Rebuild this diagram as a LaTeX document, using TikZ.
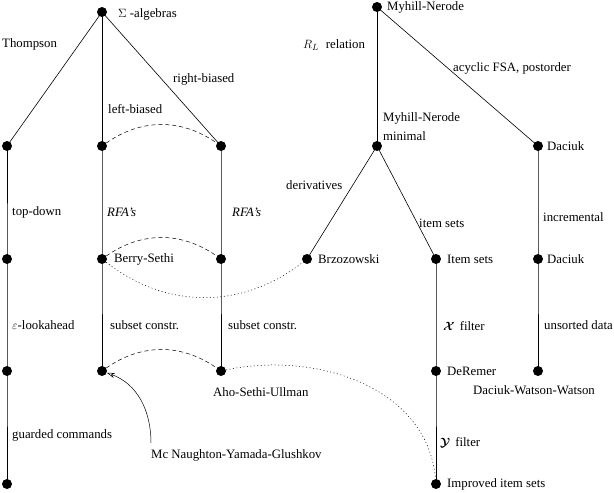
\documentclass[tikz,border=0pt]{standalone}
\usepackage{fontspec}
\usepackage{amsmath}
\setmainfont{Liberation Serif}
\usetikzlibrary{arrows.meta}
\tikzset{
  vtx/.style={circle,fill=black,inner sep=0pt,minimum size=10pt},
  edge/.style={line width=0.6pt,draw=black},
  elbl/.style={anchor=west,inner sep=0pt,font=\fontsize{12.8}{14}\selectfont},
  link/.style={dash pattern=on 4pt off 3pt,line width=0.5pt},
  trace/.style={dash pattern=on 1pt off 2.5pt,line width=0.5pt},
  arr/.style={-{Stealth[open,length=8pt,width=5pt]},line width=0.5pt},
}

\begin{document}
\begin{tikzpicture}[x=1pt,y=-1pt]
  \useasboundingbox (0,0) rectangle (614,493);
  % left tree
  \node[vtx] (sig) at (102,12) {};
  \node[vtx] (th) at (7,146) {};
  \node[vtx] (lb) at (102,146) {};
  \node[vtx] (rb) at (221,146) {};
  \node[vtx] (td) at (7,259) {};
  \node[vtx] (bs) at (102,259) {};
  \node[vtx] (rfa) at (221,259) {};
  \node[vtx] (eps) at (7,371) {};
  \node[vtx] (mc) at (102,371) {};
  \node[vtx] (asu) at (221,371) {};
  \node[vtx] (gc) at (7,484) {};
  % right tree
  \node[vtx] (mn) at (377,7) {};
  \node[vtx] (mnm) at (377,146) {};
  \node[vtx] (dac) at (538,146) {};
  \node[vtx] (brz) at (307,259) {};
  \node[vtx] (its) at (436,259) {};
  \node[vtx] (daci) at (538,259) {};
  \node[vtx] (der) at (436,371) {};
  \node[vtx] (dww) at (538,371) {};
  \node[vtx] (imp) at (436,484) {};

  % node labels
  \node[elbl] (sigl) at (118,14) {$\Sigma$ -algebras};
  \node[elbl] (mnl) at (387,7) {Myhill-Nerode};
  \node[elbl,align=left,font=\fontsize{12.8}{19}\selectfont] (mnml) at (383,127) {Myhill-Nerode\\minimal};
  \node[elbl] (dacl) at (547,146) {Daciuk};
  \node[elbl] (bsl) at (114,259) {Berry-Sethi};
  \node[elbl] (brzl) at (318,259) {Brzozowski};
  \node[elbl] (itsl) at (447,259) {Item sets};
  \node[elbl] (dacil) at (547,259) {Daciuk};
  \node[elbl] (derl) at (447,371) {DeRemer};
  \node[elbl] (asul) at (213,392) {Aho-Sethi-Ullman};
  \node[elbl] (dwwl) at (473,390) {Daciuk-Watson-Watson};
  \node[elbl] (mcgl) at (151,455) {Mc Naughton-Yamada-Glushkov};
  \node[elbl] (impl) at (447,484) {Improved item sets};

  % edge labels
  \node[elbl] (thl) at (2,44) {Thompson};
  \node[elbl] (lbl) at (108,109) {left-biased};
  \node[elbl] (rbl) at (173,79) {right-biased};
  \node[elbl] (rll) at (303,45) {$R_L$\hspace{7pt}relation};
  \node[elbl] (acl) at (453,68) {acyclic FSA, postorder};
  \node[elbl] (tdl) at (12,212) {top-down};
  \node[elbl] (rfal) at (107,212) {\textit{RFA's}};
  \node[elbl] (rfar) at (232,212) {\textit{RFA's}};
  \node[elbl] (dervl) at (286,185) {derivatives};
  \node[elbl] (isl) at (419,223) {item sets};
  \node[elbl] (incl) at (543,217) {incremental};
  \node[elbl] (epsl) at (12,325) {$\varepsilon$-lookahead};
  \node[elbl] (scl) at (110,325) {subset constr.};
  \node[elbl] (scr) at (228,325) {subset constr.};
  \node[elbl] (xfl) at (443,326) {$\boldsymbol{\mathcal{X}}$\hspace{5pt}filter};
  \node[elbl] (usl) at (544,325) {unsorted data};
  \node[elbl] (gcl) at (12,435) {guarded commands};
  \node[elbl] (yfl) at (440,443) {$\boldsymbol{\mathcal{Y}}$\hspace{5pt}filter};

  % tree edges
  \draw[edge] (sig.center) -- (th.center);
  \draw[edge] (sig.center) -- (lb.center);
  \draw[edge] (sig.center) -- (rb.center);
  \draw[edge] (th.center) -- (td.center) -- (eps.center) -- (gc.center);
  \draw[edge] (lb.center) -- (bs.center) -- (mc.center);
  \draw[edge] (rb.center) -- (rfa.center) -- (asu.center);
  \draw[edge] (mn.center) -- (mnm.center);
  \draw[edge] (mn.center) -- (dac.center);
  \draw[edge] (mnm.center) -- (brz.center);
  \draw[edge] (mnm.center) -- (its.center);
  \draw[edge] (its.center) -- (der.center) -- (imp.center);
  \draw[edge] (dac.center) -- (daci.center) -- (dww.center);

  % equivalences
  \draw[link] (lb) to[bend left=35] (rb);
  \draw[link] (bs) to[bend left=35] (rfa);
  \draw[link] (mc) to[bend left=35] (asu);
  \draw[trace] (bs) to[bend right=38] (brz);
  \draw[trace] (asu) to[out=12,in=95] (imp);
  \draw[arr] ([yshift=6pt]mcgl.north west) to[out=90,in=-20] (mc);
\end{tikzpicture}
\end{document}
